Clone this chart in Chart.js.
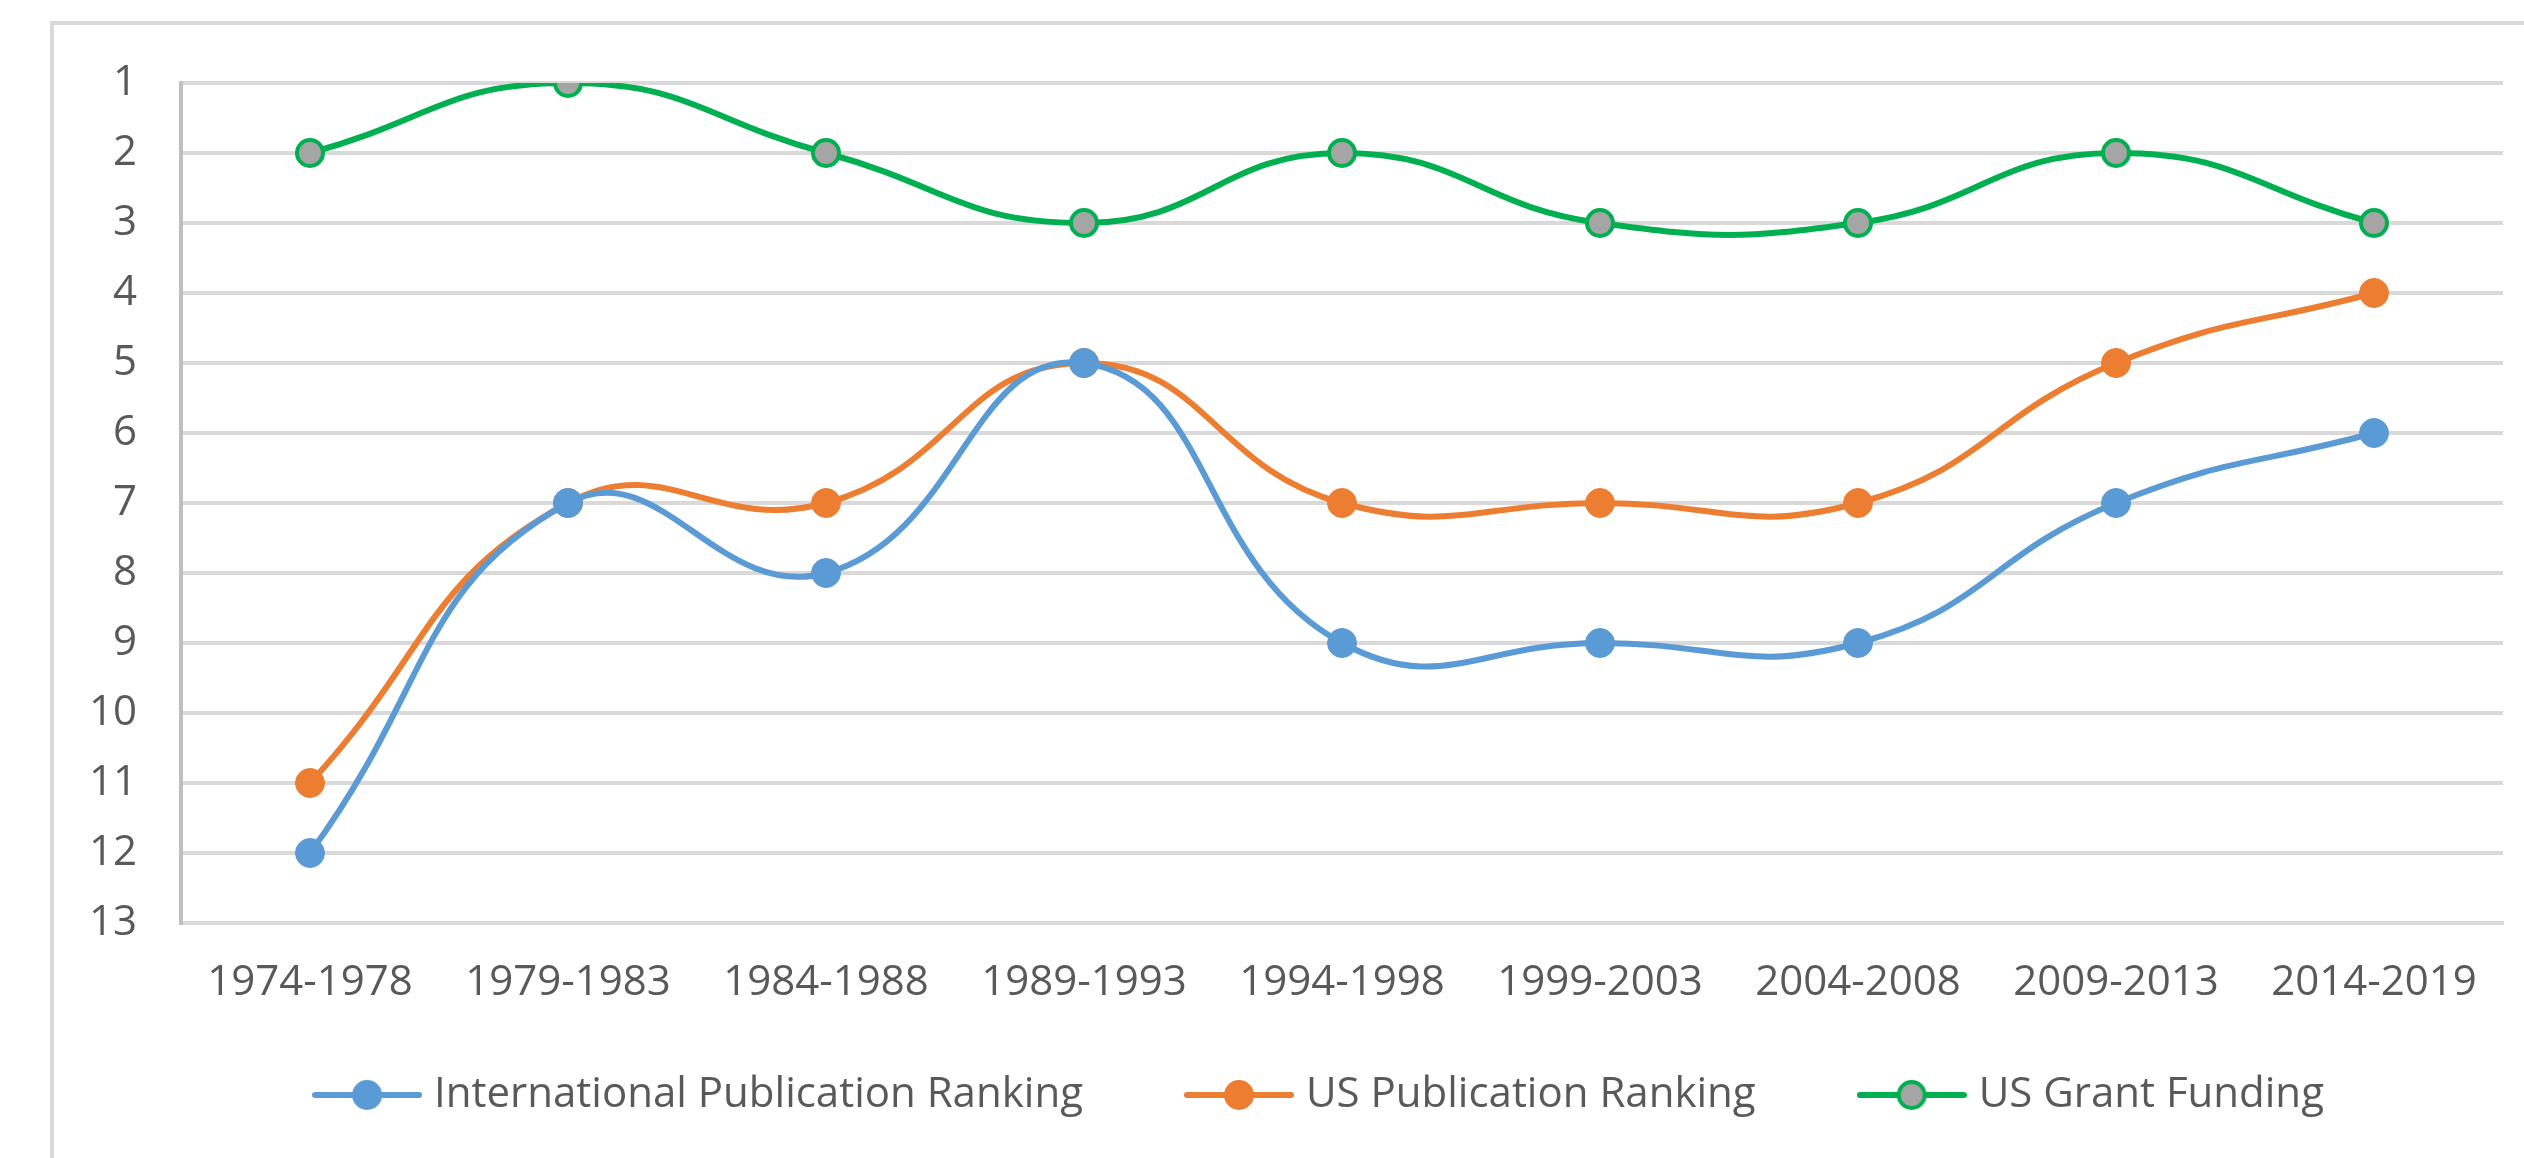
<!DOCTYPE html>
<html>
<head>
<meta charset="utf-8">
<script src="https://cdn.jsdelivr.net/npm/chart.js@4.4.1/dist/chart.umd.min.js"></script>
<style>
  html, body { margin: 0; padding: 0; background: #ffffff; overflow: hidden; }
  #wrap { position: relative; width: 2524px; height: 1158px; }
  #frame { position: absolute; left: 50px; top: 21px; width: 2600px; height: 1300px;
           border-left: 4px solid #d9d9d9; border-top: 4px solid #d9d9d9; pointer-events: none; }
  canvas { position: absolute; left: 0; top: 0; }
</style>
</head>
<body>
<div id="wrap">
  <canvas id="c" width="2524" height="1158"></canvas>
  <div id="frame"></div>
</div>
<script>
const categories = ['1974-1978', '1979-1983', '1984-1988', '1989-1993', '1994-1998',
                    '1999-2003', '2004-2008', '2009-2013', '2014-2019'];
const intlPublicationRanking = [12, 7, 8, 5, 9, 9, 9, 7, 6];
const usPublicationRanking   = [11, 7, 7, 5, 7, 7, 7, 5, 4];
const usGrantFunding         = [2, 1, 2, 3, 2, 3, 3, 2, 3];
const seriesNames = ['International Publication Ranking', 'US Publication Ranking', 'US Grant Funding'];
const yMin = 1, yMax = 13;

const BLUE = '#5b9bd5', ORANGE = '#ed7d31', GREEN = '#00b050', GRAY = '#a5a5a5';
const TEXT = '#595959';
const FONT = "'Open Sans', 'Noto Sans', sans-serif";

function makeMarker(lineColor, fillColor, borderColor) {
  const cv = document.createElement('canvas');
  cv.width = 110; cv.height = 36;
  const g = cv.getContext('2d');
  g.strokeStyle = lineColor; g.lineWidth = 6; g.lineCap = 'round';
  g.beginPath(); g.moveTo(3, 18); g.lineTo(107, 18); g.stroke();
  g.beginPath(); g.arc(55, 18, borderColor ? 13 : 15, 0, Math.PI * 2);
  g.fillStyle = fillColor; g.fill();
  if (borderColor) { g.lineWidth = 4; g.strokeStyle = borderColor; g.stroke(); }
  return cv;
}
const markers = [makeMarker(BLUE, BLUE), makeMarker(ORANGE, ORANGE), makeMarker(GREEN, GRAY, GREEN)];

// place the legend box where the reference has it (after layout)
const legendPlacer = {
  id: 'legendPlacer',
  afterLayout(chart) {
    const lg = chart.legend;
    if (!lg) return;
    lg.left = 142; lg.right = 2503; lg.width = lg.right - lg.left;
    lg.top = 964; lg.height = 194; lg.bottom = lg.top + lg.height;
  }
};

function draw() {
  const ctx = document.getElementById('c').getContext('2d');
  new Chart(ctx, {
    type: 'line',
    plugins: [legendPlacer],
    data: {
      labels: categories,
      datasets: [
        { label: seriesNames[0], data: intlPublicationRanking, borderColor: BLUE, backgroundColor: BLUE,
          pointBackgroundColor: BLUE, pointBorderColor: BLUE, pointRadius: 14.5, pointBorderWidth: 1, borderWidth: 6 },
        { label: seriesNames[1], data: usPublicationRanking, borderColor: ORANGE, backgroundColor: ORANGE,
          pointBackgroundColor: ORANGE, pointBorderColor: ORANGE, pointRadius: 14.5, pointBorderWidth: 1, borderWidth: 6 },
        { label: seriesNames[2], data: usGrantFunding, borderColor: GREEN, backgroundColor: GRAY,
          pointBackgroundColor: GRAY, pointBorderColor: GREEN, pointRadius: 13, pointBorderWidth: 4, borderWidth: 6 }
      ]
    },
    options: {
      responsive: false,
      animation: false,
      devicePixelRatio: 1,
      layout: { padding: { left: 0, right: 21, top: 83, bottom: 0 } },
      elements: { line: { tension: 0.47, fill: false, borderCapStyle: 'round', borderJoinStyle: 'round' } },
      scales: {
        x: {
          offset: true,
          grid: { display: false, drawTicks: false },
          border: { display: true, color: '#d9d9d9', width: 4 },
          ticks: { color: TEXT, font: { family: FONT, size: 42 }, padding: 35, maxRotation: 0, autoSkip: false },
          afterFit: (s) => { s.height = 95; }
        },
        y: {
          reverse: true,
          min: yMin, max: yMax,
          grid: { color: '#d9d9d9', lineWidth: 4, drawTicks: false },
          border: { display: true, color: '#bfbfbf', width: 4 },
          ticks: { stepSize: 1, color: TEXT, font: { family: FONT, size: 42 }, padding: 44 },
          afterFit: (s) => { s.width = 181; }
        }
      },
      plugins: {
        tooltip: { enabled: false },
        legend: {
          display: true,
          position: 'bottom',
          maxHeight: 140,
          labels: {
            color: TEXT,
            font: { family: FONT, size: 42 },
            usePointStyle: true,
            pointStyleWidth: 92,
            padding: 110,
            generateLabels: (chart) => {
              const items = Chart.defaults.plugins.legend.labels.generateLabels(chart);
              items.forEach((it, i) => { it.pointStyle = markers[i]; it.fontColor = TEXT; });
              return items;
            }
          }
        }
      }
    }
  });
}

if (document.fonts && document.fonts.load) {
  Promise.all([document.fonts.load("42px 'Open Sans'")]).then(draw, draw);
} else { draw(); }
</script>
</body>
</html>
